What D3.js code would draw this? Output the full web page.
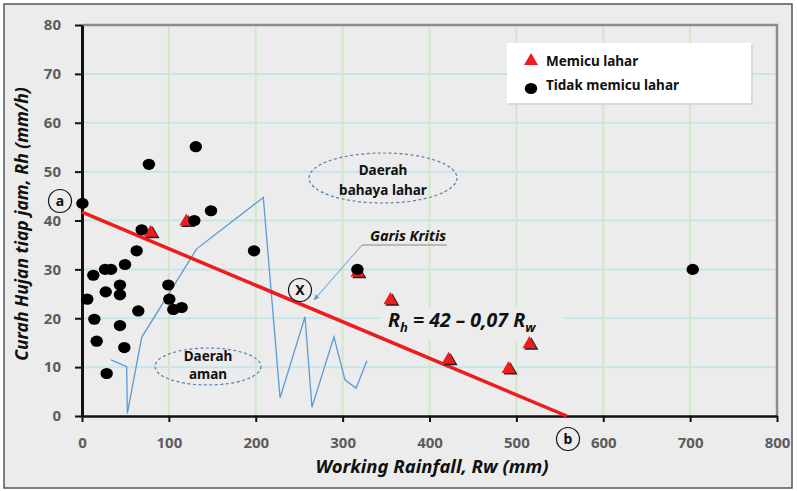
<!DOCTYPE html>
<html lang="id">
<head>
    <meta charset="UTF-8">
    <title>Working Rainfall vs Curah Hujan</title>
    <script src="https://d3js.org/d3.v7.min.js"></script>
    <style>
        body { margin: 0; background: white; }
        text { font-family: "Noto Sans", "Open Sans", sans-serif; }
    </style>
</head>
<body>
<div id="chart"></div>
<script>
    // data
    const xTicks = [0, 100, 200, 300, 400, 500, 600, 700, 800];
    const yTicks = [0, 10, 20, 30, 40, 50, 60, 70, 80];

    // Memicu lahar (triangles)
    const trigRw = [79, 120, 317, 355, 422, 491, 515];
    const trigRh = [37.5, 39.8, 29.3, 23.7, 11.5, 9.6, 14.7];

    // Tidak memicu lahar (dots)
    const nonRw = [131, 77, 0.5, 148.5, 129.3, 68.7, 62.9, 49.5, 26.5, 33.4, 13, 43.7, 27.3, 43.7,
                   6.1, 64.8, 99.4, 100.5, 105.1, 114.7, 14.2, 43.7, 16.9, 48.7, 28.4, 198, 317, 703];
    const nonRh = [55.1, 51.5, 43.5, 42.0, 40.0, 38.1, 33.8, 31.0, 30.0, 30.0, 28.8, 26.8, 25.4, 24.8,
                   23.9, 21.5, 26.8, 23.9, 21.8, 22.2, 19.8, 18.5, 15.3, 14.0, 8.7, 33.8, 30.0, 30.0];

    // thin blue trace
    const critRw = [33.4, 51.4, 52.2, 68.7, 132, 208.7, 228, 256.7, 264.7, 290, 302.7, 315.4, 328];
    const critRh = [11.5, 10.1, 0.55, 16.1, 34.2, 44.7, 3.7, 20.3, 1.8, 16.2, 7.4, 5.7, 11.3];

    // red critical line Rh = 42 - 0,07 Rw (as drawn)
    const lineRw = [0, 558];
    const lineRh = [41.7, 0];

    const width = 797, height = 491;
    const bg = "#ececec";

    const x = d3.scaleLinear().domain([0, 800]).range([82, 777]);
    const y = d3.scaleLinear().domain([0, 80]).range([416, 25]);

    const svg = d3.select("#chart").append("svg")
        .attr("width", width)
        .attr("height", height);

    svg.append("rect")
        .attr("x", 4).attr("y", 4)
        .attr("width", 788).attr("height", 484)
        .attr("fill", bg)
        .attr("stroke", "#555")
        .attr("stroke-width", 1.5);

    // grid
    svg.append("g").selectAll("line")
        .data(yTicks.filter(d => d > 0 && d < 80))
        .join("line")
        .attr("x1", x(0)).attr("x2", x(800))
        .attr("y1", d => y(d)).attr("y2", d => y(d))
        .attr("stroke", "#c6e5ea").attr("stroke-width", 2);

    svg.append("g").selectAll("line")
        .data(xTicks.filter(d => d > 0 && d < 800))
        .join("line")
        .attr("x1", d => x(d)).attr("x2", d => x(d))
        .attr("y1", y(0)).attr("y2", y(80))
        .attr("stroke", "#cfe8c8").attr("stroke-width", 2);

    // box behind the equation
    svg.append("rect")
        .attr("x", 380).attr("y", 307)
        .attr("width", 183).attr("height", 33)
        .attr("fill", bg);

    // frame top / right
    svg.append("path")
        .attr("d", `M${x(0)},${y(80)}H${x(800)}V${y(0)}`)
        .attr("fill", "none")
        .attr("stroke", "#8c8c8c")
        .attr("stroke-width", 2.5);

    // axes
    const yAxis = svg.append("g")
        .attr("transform", `translate(${x(0)},0)`)
        .call(d3.axisLeft(y).tickValues(yTicks).tickSize(7).tickPadding(14).tickSizeOuter(0));
    yAxis.select(".domain").attr("stroke", "#111").attr("stroke-width", 3);
    yAxis.selectAll(".tick line").attr("stroke", "#111").attr("stroke-width", 2);
    yAxis.selectAll(".tick text")
        .attr("fill", "#5c5c5c")
        .style("font-size", "15px")
        .style("font-weight", "bold");

    const xAxis = svg.append("g")
        .attr("transform", `translate(0,${y(0)})`)
        .call(d3.axisBottom(x).tickValues(xTicks).tickSize(6).tickPadding(15).tickSizeOuter(0));
    xAxis.select(".domain").attr("stroke", "#111").attr("stroke-width", 2.5);
    xAxis.selectAll(".tick line").attr("stroke", "#111").attr("stroke-width", 2);
    xAxis.selectAll(".tick text")
        .attr("fill", "#5c5c5c")
        .style("font-size", "15px")
        .style("font-weight", "bold");

    // axis titles
    svg.append("text")
        .attr("transform", "translate(28,224) rotate(-90)")
        .attr("text-anchor", "middle")
        .style("font-size", "17.5px")
        .style("font-weight", "bold")
        .style("font-style", "italic")
        .attr("fill", "#111")
        .text("Curah Hujan tiap jam, Rh (mm/h)");

    svg.append("text")
        .attr("x", 432).attr("y", 473)
        .attr("text-anchor", "middle")
        .style("font-size", "18.5px")
        .style("font-weight", "bold")
        .style("font-style", "italic")
        .attr("fill", "#111")
        .text("Working Rainfall, Rw (mm)");

    // blue trace
    const line = d3.line().x(d => x(d[0])).y(d => y(d[1]));
    svg.append("path")
        .datum(d3.zip(critRw, critRh))
        .attr("d", line)
        .attr("fill", "none")
        .attr("stroke", "#5b9bd5")
        .attr("stroke-width", 1.3);

    // red line
    svg.append("path")
        .datum(d3.zip(lineRw, lineRh))
        .attr("d", line)
        .attr("fill", "none")
        .attr("stroke", "#ee1c1c")
        .attr("stroke-width", 3.5);

    // points
    const tri = d3.symbol().type(d3.symbolTriangle).size(85);
    const trig = d3.zip(trigRw, trigRh);
    svg.append("g").selectAll("path")
        .data(trig)
        .join("path")
        .attr("d", tri)
        .attr("transform", d => `translate(${x(d[0]) + 2},${y(d[1]) + 1.5})`)
        .attr("fill", "#222");
    svg.append("g").selectAll("path")
        .data(trig)
        .join("path")
        .attr("d", tri)
        .attr("transform", d => `translate(${x(d[0])},${y(d[1])})`)
        .attr("fill", "#ee1c1c");

    svg.append("g").selectAll("ellipse")
        .data(d3.zip(nonRw, nonRh))
        .join("ellipse")
        .attr("cx", d => x(d[0]))
        .attr("cy", d => y(d[1]))
        .attr("rx", 6.2).attr("ry", 5.6)
        .attr("fill", "#000");

    // annotations
    function label(cx, cy, t) {
        svg.append("circle")
            .attr("cx", cx).attr("cy", cy).attr("r", 11.5)
            .attr("fill", "none").attr("stroke", "#111").attr("stroke-width", 1.2);
        svg.append("text")
            .attr("x", cx).attr("y", cy + 5)
            .attr("text-anchor", "middle")
            .style("font-size", "14px").style("font-weight", "bold")
            .attr("fill", "#111")
            .text(t);
    }
    label(60, 201, "a");
    label(568, 439, "b");
    label(300, 290, "X");

    function zone(cx, cy, rx, ry, lines, dy) {
        svg.append("ellipse")
            .attr("cx", cx).attr("cy", cy).attr("rx", rx).attr("ry", ry)
            .attr("fill", "none")
            .attr("stroke", "#5a80ad")
            .attr("stroke-width", 1.2)
            .attr("stroke-dasharray", "3,2.5");
        lines.forEach((t, i) => {
            svg.append("text")
                .attr("x", cx).attr("y", cy + dy[i])
                .attr("text-anchor", "middle")
                .style("font-size", "13.5px").style("font-weight", "bold")
                .attr("fill", "#111")
                .text(t);
        });
    }
    zone(383, 178, 74, 25, ["Daerah", "bahaya lahar"], [-3, 17]);
    zone(208, 366.5, 53, 18.5, ["Daerah", "aman"], [-6, 12]);

    // Garis Kritis pointer
    svg.append("defs").append("marker")
        .attr("id", "arr")
        .attr("viewBox", "0 0 10 10")
        .attr("refX", 9).attr("refY", 5)
        .attr("markerWidth", 6).attr("markerHeight", 6)
        .attr("orient", "auto")
        .append("path").attr("d", "M0,1L10,5L0,9z").attr("fill", "#5b9bd5");
    svg.append("path")
        .attr("d", "M447,245H362")
        .attr("stroke", "#888").attr("stroke-width", 1).attr("fill", "none");
    svg.append("path")
        .attr("d", "M362,245L314,300")
        .attr("stroke", "#5b9bd5").attr("stroke-width", 1)
        .attr("marker-end", "url(#arr)");
    svg.append("text")
        .attr("x", 408).attr("y", 241)
        .attr("text-anchor", "middle")
        .style("font-size", "14.5px").style("font-weight", "bold").style("font-style", "italic")
        .attr("fill", "#111")
        .text("Garis Kritis");

    // equation
    const eq = svg.append("text")
        .attr("x", 388).attr("y", 327)
        .style("font-size", "19.5px").style("font-weight", "bold").style("font-style", "italic")
        .attr("fill", "#111");
    eq.append("tspan").text("R");
    eq.append("tspan").attr("dy", 5).style("font-size", "13px").text("h");
    eq.append("tspan").attr("dy", -5).text(" = 42 \u2013 0,07 R");
    eq.append("tspan").attr("dy", 5).style("font-size", "13px").text("w");

    // legend
    svg.append("rect")
        .attr("x", 509).attr("y", 45).attr("width", 244).attr("height", 60)
        .attr("fill", "#d8d8d8");
    svg.append("rect")
        .attr("x", 507).attr("y", 43).attr("width", 244).attr("height", 60)
        .attr("fill", "#fff");
    svg.append("path")
        .attr("d", tri)
        .attr("transform", "translate(531,61)")
        .attr("fill", "#ee1c1c");
    svg.append("ellipse")
        .attr("cx", 531).attr("cy", 88.5).attr("rx", 6.2).attr("ry", 5.6)
        .attr("fill", "#000");
    const legendText = ["Memicu lahar", "Tidak memicu lahar"];
    svg.append("g").selectAll("text")
        .data(legendText)
        .join("text")
        .attr("x", 546)
        .attr("y", (d, i) => 66 + i * 24)
        .style("font-size", "13.5px").style("font-weight", "bold")
        .attr("fill", "#111")
        .text(d => d);
</script>
</body>
</html>
